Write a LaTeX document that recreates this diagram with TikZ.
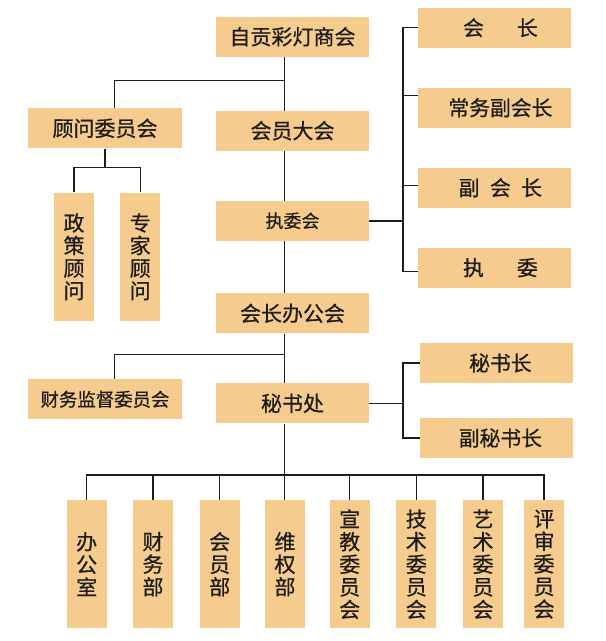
\documentclass[tikz,border=0pt]{standalone}
\usepackage{fontspec}
\setmainfont{Noto Sans CJK SC}[FakeBold=0.6]
\usetikzlibrary{calc}
\definecolor{boxfill}{RGB}{245,204,141}
\definecolor{ink}{RGB}{28,28,28}

\begin{document}
\begin{tikzpicture}[x=1pt,y=-1pt,
    org/.style={fill=boxfill,text=ink,inner sep=0pt,minimum width=153.5pt,minimum height=40pt,
      font=\fontsize{21pt}{22pt}\selectfont},
    side/.style={org,minimum width=153pt,font=\fontsize{20.8pt}{22pt}\selectfont},
    col/.style={fill=boxfill,text=ink,inner sep=0pt,minimum width=40pt,minimum height=128.3pt,
      align=center,font=\fontsize{21pt}{22.6pt}\selectfont},
    wire/.style={draw=ink,line width=1.4pt}]
    \useasboundingbox (0,0) rectangle (606,641);

    % main column
    \node[org] (top) at (292.5,36.7) {自贡彩灯商会};
    \node[org] (gm) at (292.5,130.7) {会员大会};
    \node[org,font=\fontsize{18pt}{20pt}\selectfont] (exe) at (292.5,220.8) {执委会};
    \node[org] (office) at (292.5,313.4) {会长办公会};
    \node[org] (sec) at (292.5,403.3) {秘书处};

    % left side
    \node[org] (adv) at (105,128.3) {顾问委员会};
    \node[col] (pol) at (74,256.8) {政\\策\\顾\\问};
    \node[col] (exp) at (140.2,256.8) {专\\家\\顾\\问};
    \node[org,font=\fontsize{18.4pt}{20pt}\selectfont] (fin) at (105,399.3) {财务监督委员会};

    % right side
    \node[side] (pres) at (494.2,27.7) {\hspace{12.4pt}会\hspace{33pt}长};
    \node[side] (vp1) at (494.2,107.7) {\hspace{12.4pt}常务副会长};
    \node[side] (vp2) at (494.2,187.7) {\hspace{12.4pt}副\hspace{10.5pt}会\hspace{10.5pt}长};
    \node[side] (mem) at (494.2,267.7) {\hspace{12.4pt}执\hspace{33pt}委};
    \node[side] (sg) at (496.3,363) {\hspace{8.2pt}秘书长};
    \node[side] (dsg) at (496.3,438) {\hspace{8.2pt}副秘书长};

    % departments
    \foreach \name/\x/\txt in {d1/86.7/{办\\公\\室},d2/153/{财\\务\\部},d3/219.7/{会\\员\\部},
        d4/285/{维\\权\\部},d5/349.7/{宣\\教\\委\\员\\会},d6/416.3/{技\\术\\委\\员\\会},
        d7/483/{艺\\术\\委\\员\\会},d8/544/{评\\审\\委\\员\\会}}
      \node[col] (\name) at (\x,564.2) {\txt};

    % connectors
    \coordinate (trunk) at (284.3,0);
    \coordinate (lbr) at (114.3,0);
    \coordinate (rbus) at (403,0);
    \coordinate (j1) at (284.3,80.7);
    \coordinate (j2) at (284.3,354.3);
    \coordinate (j4) at (284.3,475);

    \draw[wire] (top.south -| trunk) -- (gm.north -| trunk);
    \draw[wire] (gm.south -| trunk) -- (exe.north -| trunk);
    \draw[wire] (exe.south -| trunk) -- (office.north -| trunk);
    \draw[wire] (office.south -| trunk) -- (sec.north -| trunk);
    \draw[wire] (sec.south -| trunk) -- (d4.north -| trunk);

    \draw[wire] (j1) -| (adv.north -| lbr);
    \draw[wire] (j2) -| (fin.north -| lbr);
    \draw[wire] (adv.south) -- ++(0,19) coordinate (j3);
    \draw[wire] (pol.north) |- (j3) -| (exp.north);

    \draw[wire] (exe.east) -- (exe.east -| rbus);
    \draw[wire] (pres.west) -| ([yshift=-4pt]mem.west -| rbus) -- ([yshift=-4pt]mem.west);
    \draw[wire] ([yshift=12pt]vp1.west) -- ++(-14.7,0);
    \draw[wire] ([yshift=2pt]vp2.west) -- ++(-14.7,0);

    \draw[wire] (sec.east) -- (sec.east -| rbus);
    \draw[wire] (sg.west) -| (dsg.west -| rbus) -- (dsg.west);

    \draw[wire] (d1.north) |- (j4) -| (d8.north);
    \foreach \i in {2,3,5,6,7}
      \draw[wire] (d\i.north) -- (d\i.north |- j4);
\end{tikzpicture}
\end{document}
